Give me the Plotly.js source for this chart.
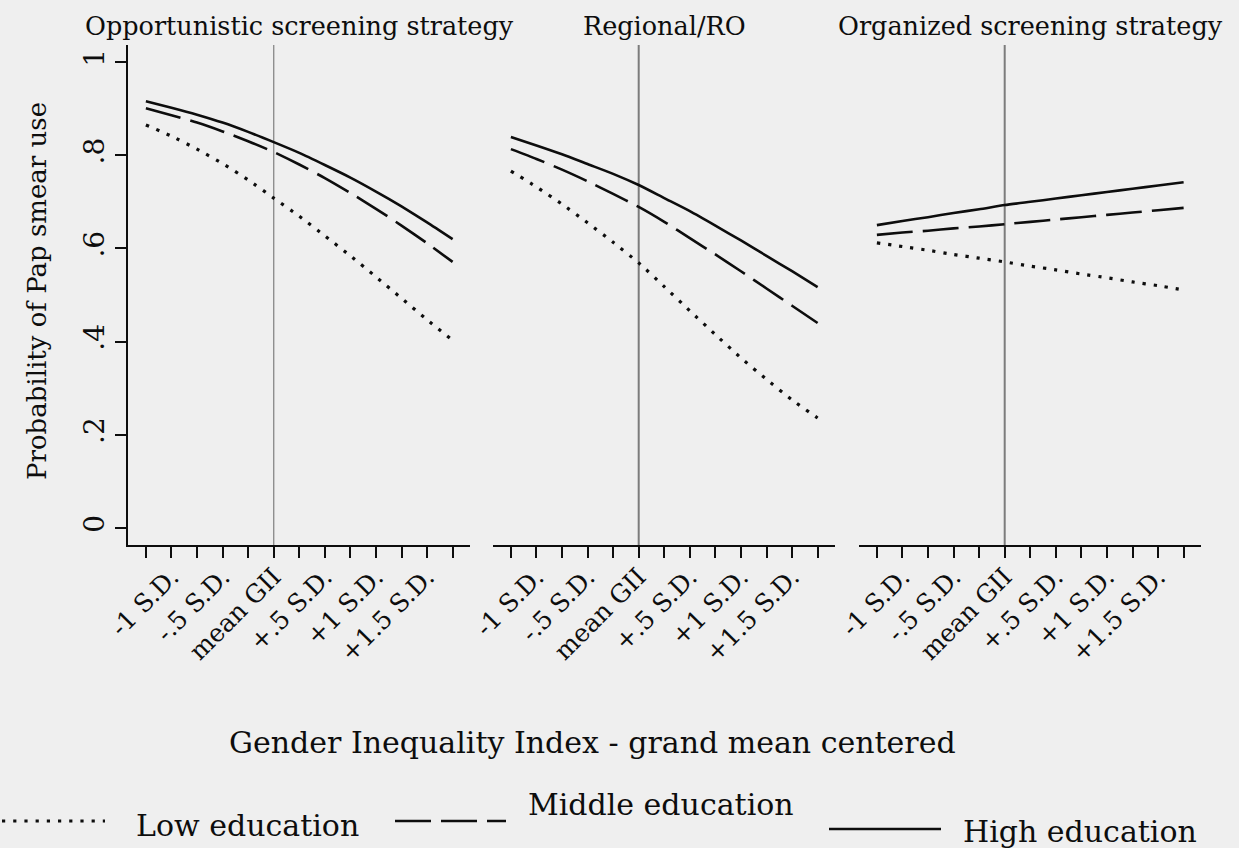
<!DOCTYPE html>
<html>
<head>
<meta charset="utf-8">
<script src="https://cdn.plot.ly/plotly-3.0.1.min.js"></script>
<style>
html, body { margin: 0; padding: 0; background: #efefef; }
#chart { width: 1239px; height: 848px; }
</style>
</head>
<body>
<div id="chart"></div>
<script>
// ---------- data ----------
const gii = [0, 1, 2, 3, 4, 5, 6, 7, 8, 9, 10, 11, 12];
const giiTickText = ['', '-1 S.D.', '', '-.5 S.D.', '', 'mean GII', '', '+.5 S.D.', '', '+1 S.D.', '', '+1.5 S.D.', ''];
const meanGII = 5;
const panelTitles = ['Opportunistic screening strategy', 'Regional/RO', 'Organized screening strategy'];
const educationLevels = ['Low education', 'Middle education', 'High education'];
const yTickVals = [0, 0.2, 0.4, 0.6, 0.8, 1];
const yTickText = ['0', '.2', '.4', '.6', '.8', '1'];
const xTitle = 'Gender Inequality Index - grand mean centered';
const yTitle = 'Probability of Pap smear use';

// Opportunistic screening strategy
const oppLow  = [0.865, 0.841, 0.813, 0.782, 0.747, 0.708, 0.669, 0.627, 0.584, 0.539, 0.493, 0.447, 0.403];
const oppMid  = [0.901, 0.886, 0.870, 0.851, 0.830, 0.807, 0.780, 0.751, 0.719, 0.685, 0.649, 0.611, 0.571];
const oppHigh = [0.916, 0.902, 0.887, 0.870, 0.850, 0.828, 0.805, 0.779, 0.752, 0.722, 0.690, 0.656, 0.620];
// Regional/RO
const regLow  = [0.766, 0.732, 0.695, 0.655, 0.613, 0.569, 0.518, 0.466, 0.415, 0.365, 0.319, 0.275, 0.236];
const regMid  = [0.813, 0.792, 0.769, 0.744, 0.717, 0.689, 0.657, 0.622, 0.587, 0.551, 0.514, 0.477, 0.440];
const regHigh = [0.839, 0.821, 0.802, 0.781, 0.760, 0.736, 0.708, 0.680, 0.649, 0.617, 0.584, 0.551, 0.517];
// Organized screening strategy
const orgLow  = [0.612, 0.604, 0.596, 0.587, 0.579, 0.571, 0.562, 0.554, 0.545, 0.537, 0.528, 0.520, 0.511];
const orgMid  = [0.629, 0.634, 0.638, 0.643, 0.647, 0.652, 0.657, 0.662, 0.667, 0.672, 0.677, 0.682, 0.687];
const orgHigh = [0.650, 0.659, 0.667, 0.676, 0.684, 0.693, 0.700, 0.707, 0.714, 0.721, 0.728, 0.735, 0.742];

// ---------- layout helpers ----------
const W = 1239, H = 848, L = 128, R = 38, T = 45, B = 303;
const pw = W - L - R, ph = H - T - B;
const px2x = X => (X - L) / pw;
const py2y = Y => (H - B - Y) / ph;

const FONT = 'DejaVu Serif';
const INK = '#0d0d0d';

const lineStyles = [
  { color: INK, width: 3.2, dash: '3.2px,8px' },
  { color: INK, width: 2.6, dash: '36px,10px' },
  { color: INK, width: 2.6, dash: 'solid' }
];

const panels = [
  { axis: 'x',  series: [oppLow, oppMid, oppHigh] },
  { axis: 'x2', series: [regLow, regMid, regHigh] },
  { axis: 'x3', series: [orgLow, orgMid, orgHigh] }
];

const traces = [];
panels.forEach(p => {
  p.series.forEach((ys, i) => {
    traces.push({
      type: 'scatter', mode: 'lines',
      x: gii, y: ys, xaxis: p.axis, yaxis: 'y',
      name: educationLevels[i], showlegend: false,
      line: Object.assign({ shape: 'spline', smoothing: 0.6 }, lineStyles[i]),
      hoverinfo: 'skip'
    });
  });
});

function xAxis(domain) {
  return {
    domain: domain, anchor: 'y',
    range: [-0.7, 12.68],
    tickmode: 'array', tickvals: gii, ticktext: giiTickText,
    tickangle: -45,
    ticks: 'outside', ticklen: 11, tickwidth: 2, tickcolor: INK,
    ticklabelstandoff: -6,
    showline: true, linecolor: INK, linewidth: 2.2,
    showgrid: false, zeroline: false,
    tickfont: { family: FONT, size: 25, color: INK },
    fixedrange: true
  };
}

const panelDomains = [
  [0, px2x(470)],
  [px2x(493), px2x(835)],
  [px2x(859), 1]
];

const shapes = [];
const vlineStyles = [
  { color: '#8f8f8f', width: 1.4 },
  { color: '#7c7c7c', width: 2 },
  { color: '#7c7c7c', width: 2 }
];
['x', 'x2', 'x3'].forEach((ax, i) => {
  shapes.push({
    type: 'line', xref: ax, yref: 'paper',
    x0: meanGII, x1: meanGII, y0: 0, y1: 1,
    line: vlineStyles[i], layer: 'below'
  });
});
// legend samples
const legendSamples = [
  { x0: 2, x1: 105, y: 821 },
  { x0: 395, x1: 506, y: 821 },
  { x0: 829, x1: 941, y: 829 }
];
legendSamples.forEach((s, i) => {
  shapes.push({
    type: 'line', xref: 'paper', yref: 'paper',
    x0: px2x(s.x0), x1: px2x(s.x1), y0: py2y(s.y), y1: py2y(s.y),
    line: lineStyles[i]
  });
});

const annotations = [];
const panelCenters = [299, 664, 1030];
panelTitles.forEach((t, i) => {
  annotations.push({
    text: t, xref: 'paper', yref: 'paper',
    x: px2x(panelCenters[i]), y: py2y(26),
    xanchor: 'center', yanchor: 'middle', showarrow: false,
    font: { family: FONT, size: 25.5, color: INK }
  });
});
annotations.push({
  text: xTitle, xref: 'paper', yref: 'paper',
  x: px2x(592), y: py2y(742), xanchor: 'center', yanchor: 'middle',
  showarrow: false, font: { family: FONT, size: 30, color: INK }
});
annotations.push({
  text: yTitle, xref: 'paper', yref: 'paper',
  x: px2x(37), y: py2y(291), xanchor: 'center', yanchor: 'middle',
  textangle: -90, showarrow: false, font: { family: FONT, size: 26, color: INK }
});
const legendText = [
  { x: 134, y: 825 },
  { x: 526, y: 804 },
  { x: 961, y: 832 }
];
educationLevels.forEach((t, i) => {
  annotations.push({
    text: t, xref: 'paper', yref: 'paper',
    x: px2x(legendText[i].x), y: py2y(legendText[i].y),
    xanchor: 'left', yanchor: 'middle', showarrow: false,
    font: { family: FONT, size: 30, color: INK }
  });
});

const layout = {
  width: W, height: H,
  margin: { l: L, r: R, t: T, b: B, pad: 0 },
  paper_bgcolor: '#efefef', plot_bgcolor: '#efefef',
  showlegend: false,
  xaxis: xAxis(panelDomains[0]),
  xaxis2: xAxis(panelDomains[1]),
  xaxis3: xAxis(panelDomains[2]),
  yaxis: {
    domain: [0, 1], anchor: 'x',
    range: [-0.0365, 1.0365],
    tickmode: 'array', tickvals: yTickVals, ticktext: yTickText,
    tickangle: -90,
    ticks: 'outside', ticklen: 11, tickwidth: 2, tickcolor: INK,
    showline: true, linecolor: INK, linewidth: 2.2,
    showgrid: false, zeroline: false,
    tickfont: { family: FONT, size: 28, color: INK },
    fixedrange: true
  },
  shapes: shapes,
  annotations: annotations
};

Plotly.newPlot('chart', traces, layout, { displayModeBar: false, staticPlot: true });
</script>
</body>
</html>
